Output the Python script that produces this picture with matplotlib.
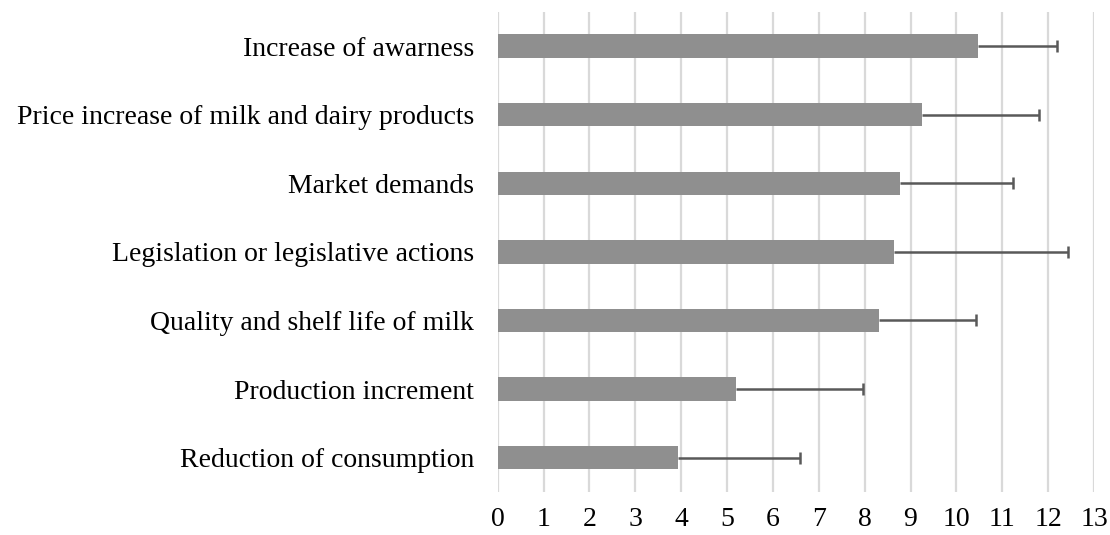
import matplotlib.pyplot as plt
import numpy as np

# categories listed bottom to top
categories = ['Reduction of consumption', 'Production increment',
              'Quality and shelf life of milk', 'Legislation or legislative actions',
              'Market demands', 'Price increase of milk and dairy products',
              'Increase of awarness']
means = [3.93, 5.20, 8.32, 8.64, 8.76, 9.25, 10.47]
errors = [2.65, 2.77, 2.11, 3.79, 2.48, 2.54, 1.73]

plt.rcParams['font.family'] = 'Liberation Serif'

fig = plt.figure(figsize=(11.1, 5.35), dpi=100)
ax = fig.add_axes([0.4484, 0.0804, 0.5372, 0.8976])

y = np.arange(len(categories))
ax.barh(y, means, height=0.34, color='#8f8f8f', zorder=2)
eb = ax.errorbar(means, y, xerr=[np.zeros(len(errors)), errors], fmt='none',
                 ecolor='#595959', elinewidth=1.8, capsize=4.5, capthick=1.8, zorder=3)
# only plus side is shown, hide the caps sitting at the bar ends
eb[1][0].set_visible(False)

ax.set_xlim(0, 13)
ax.set_ylim(-0.5, 6.5)
ax.set_xticks(range(0, 14))
ax.set_yticks(y)
ax.set_yticklabels(categories)
ax.tick_params(axis='both', length=0, labelsize=20)
ax.tick_params(axis='x', pad=10.5)
ax.tick_params(axis='y', pad=17)
ax.grid(True, axis='x', color='#d9d9d9', linewidth=1.6, zorder=0)
for s in ax.spines.values():
    s.set_visible(False)

plt.savefig('out.png')
